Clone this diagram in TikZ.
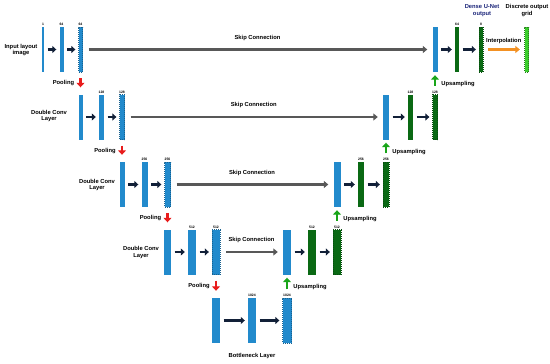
\documentclass[tikz,border=0pt]{standalone}
\usepackage{fontspec}
\setmainfont{Liberation Sans}
\usetikzlibrary{arrows.meta}
\definecolor{ublue}{RGB}{34,138,204}
\definecolor{dgreen}{RGB}{10,105,20}
\definecolor{lgreen}{RGB}{60,205,45}
\definecolor{upgreen}{RGB}{25,165,25}
\definecolor{pred}{RGB}{232,28,28}
\definecolor{orng}{RGB}{243,145,35}
\definecolor{navy}{RGB}{18,32,56}
\definecolor{sgray}{RGB}{88,88,88}
\definecolor{tblue}{RGB}{25,35,120}
\begin{document}
\begin{tikzpicture}[x=1pt,y=-1pt,
  bar/.style={rectangle,inner sep=0pt,minimum height=45pt,fill=ublue},
  dbar/.style={bar,draw=ublue!70!black,dash pattern=on 1pt off 1pt,line width=0.3pt},
  gbar/.style={bar,fill=dgreen},
  dgbar/.style={bar,fill=dgreen,draw=dgreen!70!black,dash pattern=on 1pt off 1pt,line width=0.3pt},
  lgbar/.style={bar,fill=lgreen,draw=lgreen!60!black,dash pattern=on 1pt off 1pt,line width=0.3pt},
  sz/.style={font=\fontsize{3.4}{3.4}\selectfont\bfseries,inner sep=0.7pt},
  lab/.style={font=\fontsize{5.8}{6.7}\selectfont\bfseries,align=center,inner sep=0pt},
  blk/.style={-{Triangle[length=4pt,width=7pt]},line width=2.3pt,draw=navy,shorten <=3.5pt,shorten >=3pt},
  skip/.style={-{Triangle[length=4.5pt,width=7pt]},line width=2.2pt,draw=sgray,shorten <=6pt,shorten >=5pt},
  pool/.style={-{Triangle[length=4.5pt,width=8pt]},line width=2.8pt,draw=pred,shorten <=6pt,shorten >=7pt},
  up/.style={-{Triangle[length=4.5pt,width=8pt]},line width=2.8pt,draw=upgreen,shorten <=8.5pt,shorten >=3pt},
  interp/.style={-{Triangle[length=4.5pt,width=7pt]},line width=2.3pt,draw=orng,shorten <=5pt,shorten >=4.5pt}
]
\useasboundingbox (0,0) rectangle (550,364);
% encoder
\node[bar,minimum width=2pt,label={[sz]above:1}] (a1) at (43,49.5) {};
\node[bar,minimum width=4pt,label={[sz]above:64}] (a2) at (61.5,49.5) {};
\node[dbar,minimum width=4pt,label={[sz]above:64}] (a3) at (80.5,49.5) {};
\node[bar,minimum width=4pt] (b1) at (80.5,117) {};
\node[bar,minimum width=5pt,label={[sz]above:128}] (b2) at (101.5,117) {};
\node[dbar,minimum width=5pt,label={[sz]above:128}] (b3) at (122,117) {};
\node[bar,minimum width=5pt] (c1) at (122,184.5) {};
\node[bar,minimum width=6pt,label={[sz]above:256}] (c2) at (144.5,184.5) {};
\node[dbar,minimum width=6pt,label={[sz]above:256}] (c3) at (167.5,184.5) {};
\node[bar,minimum width=7pt] (d1) at (167.5,252) {};
\node[bar,minimum width=8pt,label={[sz]above:512}] (d2) at (192,252) {};
\node[dbar,minimum width=8pt,label={[sz]above:512}] (d3) at (216,252) {};
\node[bar,minimum width=8pt] (e1) at (216,320.5) {};
\node[bar,minimum width=8pt,label={[sz]above:1024}] (e2) at (252,320.5) {};
\node[dbar,minimum width=9pt,label={[sz]above:1024}] (e3) at (287,320.5) {};
% decoder
\node[bar,minimum width=5pt] (r1a) at (435,49.5) {};
\node[gbar,minimum width=4pt,label={[sz]above:64}] (r1b) at (457,49.5) {};
\node[dgbar,minimum width=4pt,label={[sz]above:8}] (r1c) at (481,49.5) {};
\node[lgbar,minimum width=4pt] (r1d) at (526.5,49.5) {};
\node[bar,minimum width=6pt] (r2a) at (386,117) {};
\node[gbar,minimum width=5pt,label={[sz]above:128}] (r2b) at (410.5,117) {};
\node[dgbar,minimum width=5pt,label={[sz]above:128}] (r2c) at (435,117) {};
\node[bar,minimum width=7pt] (r3a) at (337,184.5) {};
\node[gbar,minimum width=6pt,label={[sz]above:256}] (r3b) at (361,184.5) {};
\node[dgbar,minimum width=6pt,label={[sz]above:256}] (r3c) at (386,184.5) {};
\node[bar,minimum width=8pt] (r4a) at (287,252) {};
\node[gbar,minimum width=8pt,label={[sz]above:512}] (r4b) at (312,252) {};
\node[dgbar,minimum width=8pt,label={[sz]above:512}] (r4c) at (337,252) {};
% conv arrows
\foreach \p/\q in {a1/a2,a2/a3,b1/b2,b2/b3,c1/c2,c2/c3,d1/d2,d2/d3,e1/e2,e2/e3,
  r1a/r1b,r1b/r1c,r2a/r2b,r2b/r2c,r3a/r3b,r3b/r3c,r4a/r4b,r4b/r4c}
  \draw[blk] (\p) -- (\q);
% skip connections
\foreach \p/\q in {a3/r1a,b3/r2a,c3/r3a,d3/r4a}
  \draw[skip] (\p) -- node[lab,above=8pt]{Skip Connection} (\q);
% pooling
\foreach \p/\q in {a3/b1,b3/c1,c3/d1,d3/e1}
  \draw[pool] (\p) -- node[lab,left=5pt]{Pooling} (\q);
% upsampling
\foreach \p/\q in {r2c/r1a,r3c/r2a,r4c/r3a,e3/r4a}
  \draw[up] (\p) -- node[lab,right=5pt,yshift=-1pt]{Upsampling} (\q);
% interpolation
\draw[interp] (r1c) -- node[lab,above=5pt]{Interpolation} (r1d);
% text labels
\node[lab] (tin) at (21,50) {Input layout\\image};
\node[lab] (tb) at (49,116) {Double Conv\\Layer};
\node[lab] (tc) at (97,185) {Double Conv\\Layer};
\node[lab] (td) at (141,252.5) {Double Conv\\Layer};
\node[lab] (te) at (252,356) {Bottleneck Layer};
\node[lab,text=tblue] (tdense) at (482,10.5) {Dense U-Net\\output};
\node[lab] (tgrid) at (527,10.5) {Discrete output\\grid};
\end{tikzpicture}
\end{document}
